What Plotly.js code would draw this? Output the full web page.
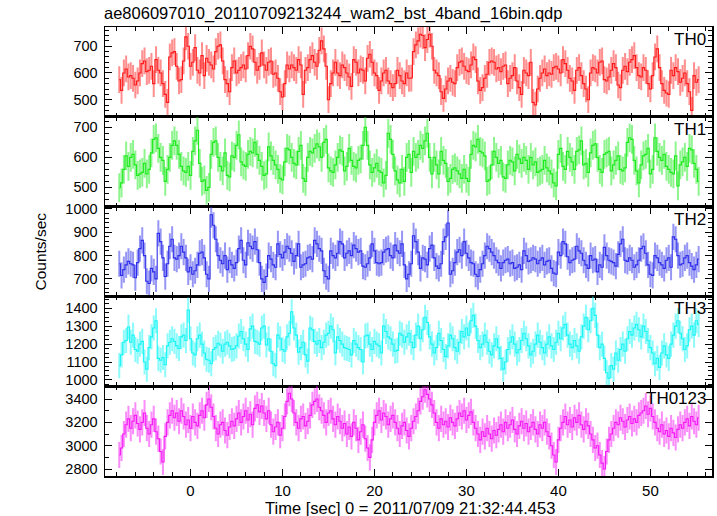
<!DOCTYPE html>
<html>
<head>
<meta charset="utf-8">
<script src="https://cdn.plot.ly/plotly-3.0.1.min.js"></script>
<style>
html,body{margin:0;padding:0;background:#fff;}
#chart{width:717px;height:516px;}
</style>
</head>
<body>
<div id="chart"></div>
<script>
// ---- data ----
const chartTitle = 'ae806097010_20110709213244_wam2_bst_4band_16bin.qdp';
const xTitle = 'Time [sec] 0 = 2011/07/09 21:32:44.453';
const yTitle = 'Counts/sec';
const bandNames = ['TH0', 'TH1', 'TH2', 'TH3', 'TH0123'];
const tStart = -7.75;   // centre of first bin [sec]
const binWidth = 0.25;  // bin width [sec]

const th0 = [
575,535,600,615,585,590,580,555,570,600,
635,645,605,610,625,560,650,610,600,560,
520,490,660,675,680,625,570,575,645,735,
700,625,640,695,610,600,665,590,655,640,
630,615,680,700,705,645,575,560,530,620,
645,600,610,620,630,615,665,700,690,640,
610,625,675,630,610,640,645,595,600,580,
530,510,560,630,615,630,620,610,650,630,
520,610,620,650,665,640,625,685,720,690,
625,500,560,600,640,600,590,630,620,600,
585,550,650,640,600,615,610,570,655,670,
640,600,590,535,570,600,610,570,560,545,
560,610,590,570,560,600,580,
581,680,705,720,745,740,695,725,745,700,
610,600,590,530,505,540,570,580,565,560,
620,640,645,625,610,605,630,660,650,570,
535,545,580,595,640,645,640,615,620,605,
625,630,560,580,590,620,570,545,520,610,
600,590,640,490,480,540,580,600,615,590,
600,595,620,625,615,600,650,635,610,580,
570,535,610,620,590,560,540,500,600,620,
615,600,640,645,575,570,585,610,635,620,
555,545,610,625,605,640,650,665,620,590,
585,620,610,560,540,590,660,690,620,560,
535,525,520,610,590,620,605,565,580,600,
560,530,460,590,565,575];

const th1 = [
499,515,560,605,570,600,610,575,540,545,
550,580,545,560,615,660,665,630,600,590,
520,560,600,640,655,640,610,570,555,550,
570,540,620,655,690,580,520,525,490,500,
610,650,655,600,570,555,615,540,535,605,
600,640,675,585,575,570,610,620,615,650,
610,590,570,540,545,635,605,590,575,560,
530,525,585,630,625,600,580,575,620,640,
530,520,600,620,615,630,645,635,600,650,
660,565,555,550,575,600,625,620,555,570,
630,590,570,565,590,595,640,700,640,575,
550,565,580,555,550,515,540,680,660,610,
555,525,515,560,520,600,610,
550,620,600,610,640,630,655,680,600,545,
600,575,545,620,590,580,520,530,560,565,
555,545,530,560,530,520,610,640,635,660,
620,615,605,520,525,575,620,600,580,590,
535,530,575,590,585,555,610,595,580,600,
590,560,600,575,585,550,555,560,590,565,
555,545,515,505,610,630,570,560,620,600,
585,560,620,625,655,575,580,550,615,640,
645,600,560,550,610,615,620,555,575,590,
605,560,555,565,650,665,660,590,555,515,
575,605,610,630,545,560,665,620,600,590,
610,570,560,550,545,605,505,575,585,600,
570,630,625,580,560,520];

const th2 = [
765,715,740,760,775,765,760,705,770,830,
865,800,690,680,745,730,700,895,860,790,
710,765,840,870,790,785,800,840,815,790,
730,750,720,735,760,810,815,790,720,700,
975,930,870,800,780,765,800,740,780,760,
745,770,830,865,780,760,855,840,830,860,
825,770,700,685,710,800,785,760,750,850,
805,790,815,840,830,810,775,800,850,750,
760,765,790,795,785,865,850,830,820,735,
710,700,820,800,790,810,860,850,790,810,
820,800,845,830,815,820,755,750,765,790,
850,820,770,765,770,815,825,830,800,790,
845,820,810,850,760,700,720,
765,885,860,815,745,790,785,760,830,845,
790,755,745,765,860,880,940,720,735,770,
815,825,800,860,810,790,770,765,720,710,
740,765,800,840,830,815,800,780,770,745,
770,780,785,765,770,745,750,760,740,820,
800,775,780,790,785,765,780,790,760,775,
780,745,725,720,815,800,860,850,795,770,
780,785,840,820,810,780,760,745,800,780,
785,730,760,750,835,800,780,775,770,755,
805,850,870,780,775,790,780,750,760,780,
830,840,810,760,720,715,800,790,770,760,
745,780,790,750,880,870,800,760,765,790,
800,770,755,740,760,785];

const th3 = [
1080,1140,1210,1220,1295,1210,1250,1170,1160,1200,
1215,1100,1060,1180,1240,1290,1330,1120,1110,1125,
1085,1190,1210,1230,1215,1190,1175,1240,1250,1220,
1390,1230,1150,1140,1230,1250,1200,1150,1115,1110,
1090,1170,1180,1205,1195,1160,1200,1210,1190,1170,
1175,1190,1245,1270,1230,1200,1170,1285,1300,1215,
1210,1200,1290,1300,1195,1230,1160,1090,1080,1250,
1230,1170,1160,1240,1260,1380,1290,1250,1155,1180,
1210,1140,1105,1290,1280,1215,1200,1220,1180,1210,
1250,1260,1300,1280,1150,1240,1220,1200,1180,1175,
1170,1140,1220,1200,1180,1170,1100,1245,1250,1200,
1170,1215,1200,1190,1150,1300,1270,1240,1230,1200,
1160,1165,1260,1250,1210,1240,1260,
1210,1180,1250,1300,1230,1280,1350,1320,
1240,1200,1150,1180,1260,1220,1170,1130,
1190,1250,1230,1180,1160,1210,1270,1240,
1290,1250,1330,1360,1300,1220,1180,1200,
1250,1210,1160,1140,1190,1230,1180,1120,
1060,1100,1170,1210,1240,1200,1150,1170,
1220,1260,1230,1190,1140,1160,1200,1250,
1210,1180,1150,1200,1240,1190,1170,1210,
1260,1230,1290,1310,1250,1200,1180,1220,
1190,1160,1240,1300,1350,1280,1330,1400,
1360,1250,1180,1200,1120,1040,1010,1080,
1060,1150,1110,1170,1200,1160,1230,1270,
1250,1290,1310,1280,1240,1300,1270,1220,
1180,1150,1090,1120,1070,1150,1190,1140,
1120,1200,1250,1300,1330,1260,1230,1170,
1190,1280,1300,1250,1330,1310];

const th0123 = [
2920,2980,3100,
3180,3230,3150,3210,3260,3190,
3140,3200,3280,3150,3100,3180,3230,3120,3060,
2950,2860,3080,3200,
3260,3300,3240,3280,3210,3300,3250,
3180,3220,3150,3250,3200,3170,
3260,3300,3240,3350,3400,3330,3250,
3150,3100,3180,3200,3130,3090,3160,3210,3170,
3230,3280,3200,3250,3300,3220,3270,3180,
3320,3350,3290,3340,3280,3230,3300,
3180,3120,3160,3200,3090,3150,3250,
3380,3450,3400,3280,
3200,3150,3230,3250,3170,3210,3260,3350,3380,
3400,3330,3300,3260,
3200,3280,3300,3230,3180,3250,3210,3150,3190,
3100,3160,3080,3200,3150,3050,3120,3180,3060,2980,2900,
3050,3200,3260,3300,3220,3280,3250,3180,3230,3260,3200,
3150,3100,3170,3200,3130,3080,3150,3210,3250,3300,
3380,3420,3480,3440,3400,3350,3280,
3200,3150,3230,3180,3210,3160,3240,3200,3170,
3230,3280,3250,3300,3220,3260,3290,3200,3150,
3100,3050,3120,3080,3150,3100,3060,3130,3090,3140,3180,
3120,3200,3150,3180,3220,3140,3100,3170,3210,3150,3190,3120,3160,
3200,3140,3100,3180,3150,3200,3120,3080,3000,2920,2860,3050,
3150,3200,3250,3180,3220,3160,3240,3200,3260,3180,3140,3210,3170,3100,
3050,2980,3000,2920,2850,2800,2950,3050,3100,
3150,3200,3180,3240,3210,3160,3220,3250,3190,3230,3200,3260,3280,
3300,3340,3270,3320,3250,3200,3150,3120,3180,
3100,3130,3080,3150,3110,3070,3140,3180,3150,
3200,3230,3170,3250,3210,3180,3240];

const seriesList = [th0, th1, th2, th3, th0123];
const errorSizes = [50, 48, 56, 70, 112];   // 1-sigma, counts/sec

// ---- styles ----
const lineColors = ['rgb(255,25,25)', 'rgb(30,235,30)', 'rgb(45,45,235)', 'rgb(25,245,245)', 'rgb(245,25,245)'];
const errColors  = ['rgba(255,30,30,0.5)', 'rgba(30,235,30,0.5)', 'rgba(45,45,235,0.5)', 'rgba(25,245,245,0.5)', 'rgba(245,25,245,0.5)'];
const yRanges = [[436, 772], [436, 735], [625, 1010], [965, 1466], [2740, 3510]];
const yDticks = [100, 100, 100, 100, 200];
const yMinor  = [20, 20, 20, 25, 100];

const FONT = '"Liberation Sans", Arial, Helvetica, sans-serif';
const n = seriesList.length;
const traces = [];
const layout = {
  width: 717, height: 516,
  margin: {l: 105, r: 5, t: 27, b: 40},
  paper_bgcolor: '#fff', plot_bgcolor: '#fff',
  showlegend: false,
  font: {family: FONT, size: 15, color: '#000'},
  title: {text: chartTitle, x: 104/717, xanchor: 'left', y: 1 - 13/516, yanchor: 'middle',
          font: {family: FONT, size: 16.5, color: '#000'}},
  annotations: []
};

for (let k = 0; k < n; k++) {
  const vals = seriesList[k];
  const t = vals.map((_, i) => tStart + binWidth * i);
  const sfx = k === 0 ? '' : String(k + 1);
  traces.push({
    type: 'scatter', mode: 'lines', x: t, y: vals,
    xaxis: 'x' + sfx, yaxis: 'y' + sfx,
    line: {color: lineColors[k], width: 1.1, shape: 'hvh'},
    error_y: {type: 'constant', value: errorSizes[k], color: errColors[k], thickness: 2, width: 0},
    hoverinfo: 'skip'
  });
  const top = 1 - k / n, bot = 1 - (k + 1) / n;
  layout['xaxis' + sfx] = {
    domain: [0, 1], anchor: 'y' + sfx, range: [-9.3, 56.7],
    matches: k === 0 ? undefined : 'x',
    showticklabels: k === n - 1,
    tick0: 0, dtick: 10, ticks: 'inside', ticklen: 7, tickwidth: 1, tickcolor: '#000',
    minor: {dtick: 2, ticks: 'inside', ticklen: 4, tickwidth: 1, tickcolor: '#000'},
    mirror: 'allticks', showline: true, linecolor: '#000', linewidth: 1.5,
    showgrid: false, zeroline: false,
    tickfont: {family: FONT, size: 15, color: '#000'}
  };
  layout['yaxis' + sfx] = {
    domain: [bot, top], anchor: 'x' + sfx, range: yRanges[k],
    tick0: 0, dtick: yDticks[k], ticks: 'inside', ticklen: 7, tickwidth: 1, tickcolor: '#000',
    minor: {dtick: yMinor[k], ticks: 'inside', ticklen: 4, tickwidth: 1, tickcolor: '#000'},
    mirror: 'allticks', showline: true, linecolor: '#000', linewidth: 1.5,
    showgrid: false, zeroline: false, ticklabelstandoff: 3,
    tickfont: {family: FONT, size: 14.5, color: '#000'}
  };
  layout.annotations.push({
    text: bandNames[k], xref: 'paper', yref: 'paper', x: 1, y: top,
    xanchor: 'right', yanchor: 'top', xshift: -4, yshift: -1, showarrow: false,
    font: {family: FONT, size: 17, color: '#000'}
  });
}

layout.annotations.push({
  text: yTitle, xref: 'paper', yref: 'paper', x: (40 - 105) / 607, y: 0.5,
  textangle: -90, xanchor: 'center', yanchor: 'middle', showarrow: false,
  font: {family: FONT, size: 15.5, color: '#000'}
});
layout.annotations.push({
  text: xTitle, xref: 'paper', yref: 'paper', x: (410 - 105) / 607, y: -(508 - 476) / 449,
  xanchor: 'center', yanchor: 'middle', showarrow: false,
  font: {family: FONT, size: 16.5, color: '#000'}
});

Plotly.newPlot('chart', traces, layout, {staticPlot: true, displayModeBar: false});
</script>
</body>
</html>
